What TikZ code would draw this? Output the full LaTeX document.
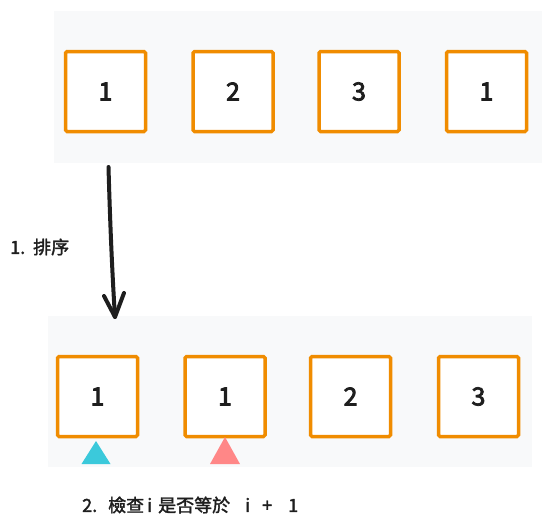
\documentclass[tikz,border=0pt]{standalone}
\usepackage{fontspec}
\setmainfont{Noto Sans CJK TC}
\newcommand{\heavy}[2]{\special{pdf:literal direct 2 Tr #1 w}#2\special{pdf:literal direct 0 Tr}}
\usetikzlibrary{arrows.meta}
\definecolor{bgc}{HTML}{F8F9FA}
\definecolor{org}{HTML}{F08C00}
\definecolor{ink}{HTML}{1E1E1E}
\definecolor{cyn}{HTML}{3BC9DB}
\definecolor{pnk}{HTML}{FF8787}
\tikzset{
  panel/.style={fill=bgc, draw=none, inner sep=0pt},
  cell/.style={draw=org, fill=white, line width=3.5pt, rounded corners=1.5pt, minimum width=80pt, minimum height=80pt, inner sep=0pt, text=ink, font=\fontsize{25}{25}\selectfont},
  lbl/.style={text=ink, font=\fontsize{18}{20}\selectfont, inner sep=0pt, anchor=west},
  arr/.style={draw=ink, line width=4pt, line cap=round, line join=round}
}
\begin{document}
\begin{tikzpicture}[x=1pt,y=-1pt]
\useasboundingbox (0,0) rectangle (550,530);
\fill[white] (0,0) rectangle (550,530);
% panels
\node[panel, minimum width=488pt, minimum height=152pt] (ptop) at (298,87) {};
\node[panel, minimum width=484pt, minimum height=151pt] (pbot) at (290,391.5) {};
% top cells
\node[cell] (t1) at (105.5,91.5) {\heavy{0.8}{1}};
\node[cell] (t2) at (233,91.5) {\heavy{0.8}{2}};
\node[cell] (t3) at (359,91.5) {\heavy{0.8}{3}};
\node[cell] (t4) at (486.5,91.5) {\heavy{0.8}{1}};
% bottom cells
\node[cell] (b1) at (97.5,396.5) {\heavy{0.8}{1}};
\node[cell] (b2) at (225,396.5) {\heavy{0.8}{1}};
\node[cell] (b3) at (350.5,396.5) {\heavy{0.8}{2}};
\node[cell] (b4) at (478.5,396.5) {\heavy{0.8}{3}};
% pointers
\fill[cyn] (96,441) -- (110.5,464) -- (81.5,464) -- cycle;
\fill[pnk] (225,437) -- (240,464) -- (210,464) -- cycle;
% arrow
\coordinate (as) at (108.5,167);
\coordinate (ae) at (115,317);
\draw[arr] (as) .. controls (110,220) and (112,270) .. (ae);
\draw[arr] (104,296) -- (ae) -- (124,293);
% labels
\node[lbl] (l1) at (10,247) {\heavy{0.35}{\makebox[23pt][l]{1.}排序}};
\node[lbl] (l2) at (82,505) {\heavy{0.35}{\makebox[26pt][l]{2.}\makebox[39pt][l]{檢查}\makebox[11pt][l]{i}\makebox[87pt][l]{是否等於}\makebox[17pt][l]{i}\makebox[26pt][l]{+}1}};
\end{tikzpicture}
\end{document}
